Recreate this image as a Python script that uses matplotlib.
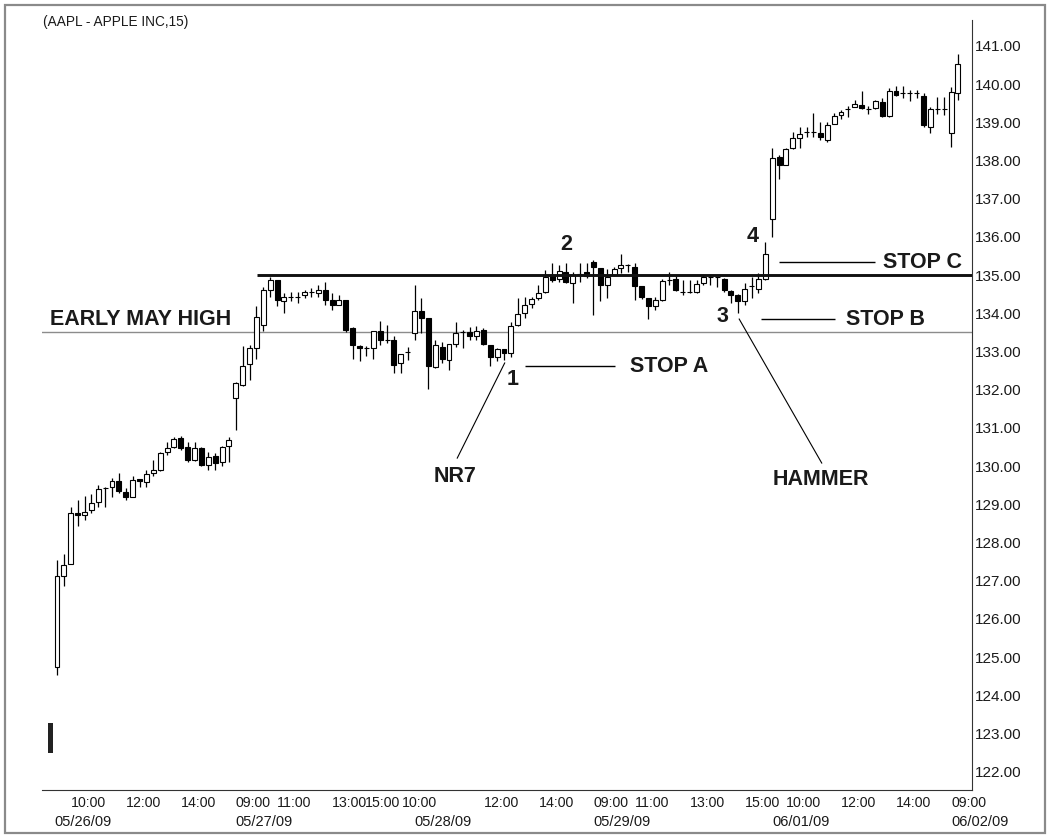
import matplotlib
matplotlib.use("Agg")
import matplotlib.pyplot as plt
import matplotlib.transforms as mtransforms
from matplotlib.patches import Rectangle

plt.rcParams['font.family'] = ['Liberation Sans', 'DejaVu Sans']

# 15 minute bars, AAPL 05/26/09 - 06/02/09
opens = [124.75, 127.13, 127.44, 128.76, 128.72, 128.84, 129.05, 129.42, 129.45, 129.62,
         129.33, 129.20, 129.66, 129.58, 129.83, 129.90, 130.38, 130.51, 130.73, 130.49,
         130.16, 130.47, 130.03, 130.27, 130.10, 130.53,
         131.78, 132.13, 132.68, 133.10, 133.70, 134.60, 134.86, 134.31, 134.44, 134.44,
         134.48, 134.57, 134.54, 134.61, 134.35, 134.22, 134.35, 133.61, 133.15, 133.10,
         133.09, 133.54, 133.31, 133.31, 132.69, 133.00,
         133.48, 134.05, 133.87, 132.59, 133.13, 132.78, 133.20, 133.52, 133.50, 133.41,
         133.57, 133.17, 132.85, 133.06, 132.97, 133.70, 134.00, 134.25, 134.39, 134.57,
         134.98, 134.89, 135.09, 134.79, 135.03, 135.07,
         135.35, 135.20, 134.74, 135.00, 135.18, 135.27, 135.22, 134.72, 134.39, 134.19,
         134.35, 134.87, 134.89, 134.57, 134.57, 134.57, 134.79, 134.94, 134.94, 134.89,
         134.59, 134.48, 134.31, 134.72, 134.65, 134.91,
         136.46, 138.10, 137.88, 138.32, 138.58, 138.75, 138.75, 138.73, 138.54, 138.97,
         139.19, 139.34, 139.39, 139.45, 139.34, 139.37, 139.54, 139.16, 139.83, 139.76,
         139.76, 139.76, 139.69, 138.88, 139.36, 139.36,
         138.73, 139.78]
highs = [127.54, 127.70, 128.94, 129.12, 129.23, 129.26, 129.51, 129.45, 129.68, 129.81,
         129.42, 129.73, 129.66, 129.90, 130.16, 130.38, 130.64, 130.77, 130.79, 130.62,
         130.62, 130.51, 130.38, 130.34, 130.53, 130.76,
         132.20, 133.15, 133.18, 134.20, 134.70, 134.96, 134.88, 134.54, 134.57, 134.57,
         134.60, 134.66, 134.75, 134.81, 134.53, 134.48, 134.35, 133.65, 133.18, 133.15,
         133.54, 133.79, 133.70, 133.40, 132.93, 133.13,
         134.74, 134.39, 133.87, 133.30, 133.26, 133.20, 133.78, 133.57, 133.64, 133.67,
         133.61, 133.17, 133.09, 133.06, 133.78, 134.39, 134.44, 134.44, 134.74, 135.14,
         135.31, 135.27, 135.31, 135.09, 135.33, 135.33,
         135.40, 135.20, 135.15, 135.22, 135.55, 135.29, 135.33, 134.72, 134.39, 134.42,
         134.89, 135.09, 134.98, 134.87, 134.87, 134.87, 135.00, 134.98, 134.96, 134.92,
         134.61, 134.51, 134.80, 134.96, 135.05, 135.87,
         138.32, 138.14, 138.34, 138.75, 138.88, 138.88, 139.25, 139.02, 139.02, 139.25,
         139.32, 139.43, 139.58, 139.83, 139.43, 139.58, 139.65, 139.89, 139.95, 139.95,
         139.85, 139.86, 139.77, 139.41, 139.67, 139.67,
         139.93, 140.80]
lows = [124.53, 126.85, 127.44, 128.42, 128.59, 128.77, 128.92, 128.94, 129.20, 129.29,
        129.10, 129.20, 129.46, 129.46, 129.74, 129.86, 130.29, 130.47, 130.42, 130.12,
        130.14, 130.00, 129.90, 129.90, 129.99, 130.12,
        130.95, 132.10, 132.26, 132.80, 133.55, 134.42, 134.18, 134.02, 134.31, 134.27,
        134.40, 134.44, 134.42, 134.22, 134.09, 134.22, 133.52, 132.80, 132.74, 132.87,
        132.80, 133.17, 133.22, 132.43, 132.43, 132.78,
        133.30, 133.48, 132.01, 132.56, 132.69, 132.52, 133.13, 133.09, 133.30, 133.30,
        133.17, 132.61, 132.74, 132.78, 132.85, 133.67, 133.87, 134.13, 134.35, 134.53,
        134.83, 134.83, 134.79, 134.26, 134.83, 134.92,
        133.96, 134.31, 134.39, 134.98, 135.05, 135.09, 134.35, 134.37, 133.84, 134.09,
        134.33, 134.74, 134.59, 134.48, 134.52, 134.52, 134.74, 134.74, 134.70, 134.57,
        134.26, 134.02, 134.22, 134.39, 134.52, 134.87,
        136.01, 137.51, 137.88, 138.30, 138.34, 138.62, 138.62, 138.54, 138.49, 138.95,
        139.10, 139.15, 139.39, 139.34, 139.23, 139.34, 139.13, 139.15, 139.69, 139.63,
        139.57, 139.63, 138.88, 138.73, 139.23, 139.19,
        138.36, 139.58]
closes = [127.11, 127.41, 128.77, 128.72, 128.81, 129.03, 129.39, 129.42, 129.62, 129.36,
          129.20, 129.64, 129.60, 129.80, 129.90, 130.35, 130.47, 130.71, 130.47, 130.16,
          130.47, 130.03, 130.25, 130.09, 130.49, 130.69,
          132.17, 132.63, 133.09, 133.90, 134.60, 134.86, 134.34, 134.42, 134.44, 134.44,
          134.57, 134.57, 134.61, 134.35, 134.22, 134.35, 133.57, 133.18, 133.09, 133.08,
          133.54, 133.31, 133.31, 132.65, 132.93, 133.00,
          134.05, 133.87, 132.61, 133.17, 132.80, 133.20, 133.48, 133.52, 133.41, 133.55,
          133.20, 132.85, 133.06, 132.97, 133.67, 133.98, 134.22, 134.37, 134.54, 134.96,
          134.86, 135.11, 134.83, 135.00, 135.03, 134.98,
          135.22, 134.74, 134.94, 135.15, 135.27, 135.27, 134.72, 134.42, 134.19, 134.35,
          134.85, 134.87, 134.61, 134.55, 134.57, 134.77, 134.94, 134.94, 134.94, 134.61,
          134.48, 134.31, 134.65, 134.72, 134.89, 135.55,
          138.08, 137.88, 138.29, 138.60, 138.69, 138.75, 138.75, 138.61, 138.93, 139.16,
          139.28, 139.34, 139.47, 139.37, 139.34, 139.56, 139.16, 139.83, 139.71, 139.76,
          139.76, 139.76, 138.93, 139.36, 139.36, 139.36,
          139.80, 140.54]

# x tick labels (bar index where each label starts)
time_pos = [2, 10, 18, 26, 32, 40, 44.8, 50.2, 62, 70, 78, 84, 92, 100, 106, 114, 122, 130]
time_lbl = ['10:00', '12:00', '14:00', '09:00', '11:00', '13:00', '15:00', '10:00', '12:00',
            '14:00', '09:00', '11:00', '13:00', '15:00', '10:00', '12:00', '14:00', '09:00']
date_pos = [-0.4, 26, 52, 78, 104, 130]
date_lbl = ['05/26/09', '05/27/09', '05/28/09', '05/29/09', '06/01/09', '06/02/09']
price_ticks = list(range(122, 142))

early_may_high = 133.5
breakout_level = 135.0

fig = plt.figure(figsize=(10.5, 8.38), dpi=100)
fig.patches.append(Rectangle((5 / 1050, 5 / 838), 1040 / 1050, 828 / 838,
                             transform=fig.transFigure, fill=False,
                             edgecolor='#8a8a8a', linewidth=1.6))
ax = fig.add_axes([42 / 1050, 48 / 838, 930 / 1050, 770 / 838])

x = list(range(len(opens)))
ax.vlines(x, lows, highs, color='black', linewidth=0.9, zorder=2)
bottoms = [min(o, c) for o, c in zip(opens, closes)]
heights = [abs(c - o) for o, c in zip(opens, closes)]
fills = ['black' if c < o else 'white' for o, c in zip(opens, closes)]
ax.bar(x, heights, bottom=bottoms, width=0.72, color=fills, edgecolor='black',
       linewidth=0.8, zorder=3)

# small volume-style marker bottom left
ax.bar([-0.95], [0.78], bottom=[122.5], width=0.75, color='#222222', zorder=3)

ax.axhline(early_may_high, color='#8c8c8c', linewidth=1.0, zorder=1)
ax.hlines(breakout_level, 29.1, 133.05, color='#111111', linewidth=2.1, zorder=4)

bold = dict(fontsize=15.5, fontweight='bold', color='#1a1a1a')
ax.text(-1.0, 133.83, 'EARLY MAY HIGH', ha='left', va='center', **bold)

ax.hlines(132.62, 68.1, 81.1, color='black', linewidth=1.0)
ax.text(83.3, 132.6, 'STOP A', ha='left', va='center', **bold)
ax.text(66.3, 132.26, '1', ha='center', va='center', **bold)
ax.plot([65.1, 58.2], [132.70, 130.21], color='black', linewidth=0.8)
ax.text(57.9, 129.72, 'NR7', ha='center', va='center', **bold)

ax.text(74.0, 135.79, '2', ha='center', va='center', **bold)
ax.text(96.7, 133.93, '3', ha='center', va='center', **bold)
ax.plot([99.2, 111.2], [133.85, 130.08], color='black', linewidth=0.8)
ax.text(111.1, 129.66, 'HAMMER', ha='center', va='center', **bold)

ax.hlines(133.85, 102.4, 113.1, color='black', linewidth=1.0)
ax.text(114.7, 133.83, 'STOP B', ha='left', va='center', **bold)
ax.hlines(135.35, 105.0, 118.9, color='black', linewidth=1.0)
ax.text(120.1, 135.33, 'STOP C', ha='left', va='center', **bold)
ax.text(101.1, 136.0, '4', ha='center', va='center', **bold)

ax.set_xlim(-2.18, 133.05)
ax.set_ylim(121.52, 141.68)

ax.spines['left'].set_visible(False)
ax.spines['top'].set_visible(False)
ax.spines['bottom'].set_color('#333333')
ax.spines['right'].set_color('#333333')

ax.yaxis.tick_right()
ax.set_yticks(price_ticks, [f'{p:.2f}' for p in price_ticks])
ax.set_xticks(time_pos, time_lbl, ha='left')
ax.tick_params(axis='y', length=0, labelsize=11, colors='#1a1a1a', pad=2)
ax.tick_params(axis='x', length=0, labelsize=10.2, colors='#1a1a1a', pad=4)

trans = mtransforms.blended_transform_factory(ax.transData, fig.transFigure)
for p, lbl in zip(date_pos, date_lbl):
    ax.text(p, 1 - 822 / 838, lbl, transform=trans, ha='left', va='center',
            fontsize=10.5, color='#1a1a1a')

fig.text(43 / 1050, 1 - 22 / 838, '(AAPL - APPLE INC,15)', ha='left', va='center',
         fontsize=9.8, color='#1a1a1a')

fig.savefig('out.png', dpi=100)
